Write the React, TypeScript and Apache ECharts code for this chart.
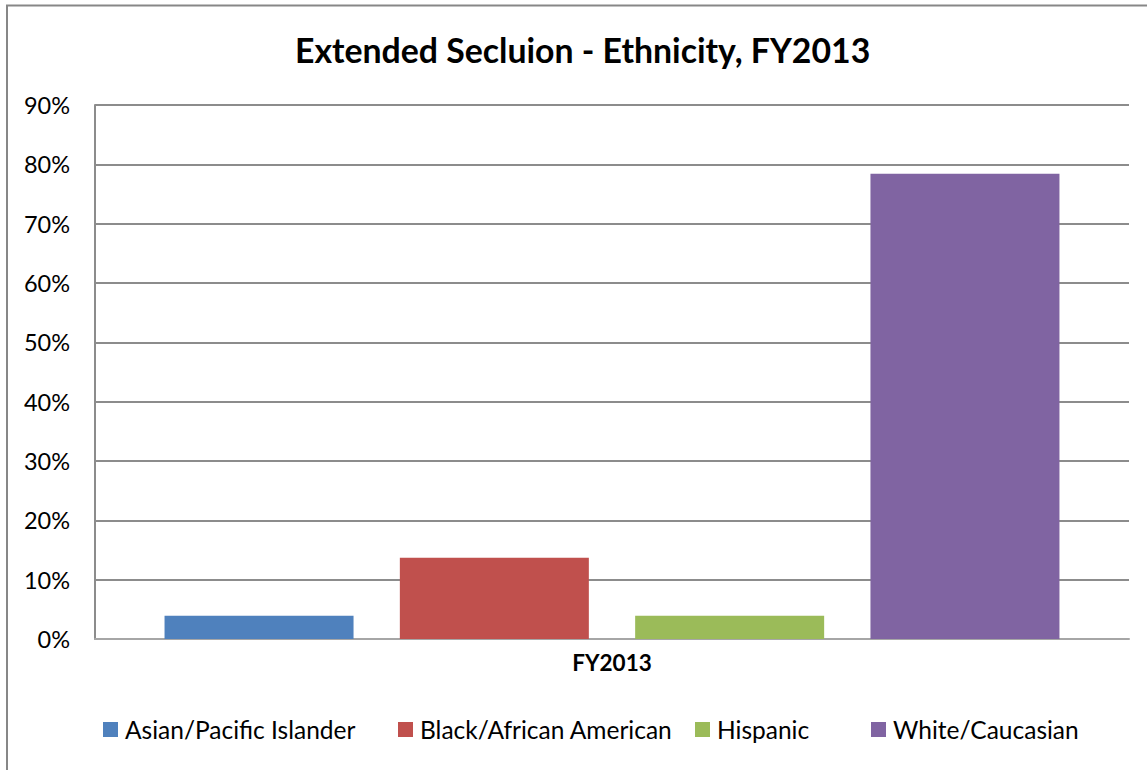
import React, { useEffect, useRef } from "react";
import * as echarts from "echarts";

const categories = ["FY2013"];
const seriesNames = ["Asian/Pacific Islander", "Black/African American", "Hispanic", "White/Caucasian"];
const asianValues = [0.039];
const blackValues = [0.137];
const hispanicValues = [0.039];
const whiteValues = [0.784];
const seriesColors = ["#4F81BD", "#C0504D", "#9BBB59", "#8064A2"];
const yTicks = { min: 0, max: 0.9, interval: 0.1 };
const legendLefts = [103, 398, 695, 871];

export default function App() {
  const ref = useRef<HTMLDivElement>(null);
  useEffect(() => {
    if (!ref.current) return;
    const chart = echarts.init(ref.current, null, { renderer: "svg" });
    const allValues = [asianValues, blackValues, hispanicValues, whiteValues];
    const font = "Lato, 'Open Sans', sans-serif";
    chart.setOption({
      animation: false,
      backgroundColor: "#ffffff",
      textStyle: { fontFamily: font },
      title: {
        text: "Extended Secluion - Ethnicity, FY2013",
        left: 290,
        top: 28,
        textStyle: { fontFamily: font, fontSize: 33.8, fontWeight: "bold", color: "#000" },
      },
      graphic: [
        {
          type: "rect",
          shape: { x: 7, y: 5.5, width: 1200, height: 820 },
          style: { fill: "none", stroke: "#878787", lineWidth: 2 },
          silent: true,
        },
      ],
      legend: seriesNames.map((name, i) => ({
        left: legendLefts[i],
        top: 717,
        padding: 0,
        itemWidth: 15,
        itemHeight: 15,
        icon: "rect",
        textStyle: { fontFamily: font, fontSize: 24.5, color: "#000", padding: [0, 0, 0, 2] },
        data: [name],
      })),
      grid: { left: 95, top: 105, right: 18, bottom: 131, containLabel: false },
      xAxis: {
        type: "category",
        data: categories,
        axisLine: { show: true, lineStyle: { color: "#a6a6a6", width: 2 } },
        axisTick: { show: false },
        axisLabel: {
          margin: 12,
          fontFamily: font,
          fontSize: 22.5,
          fontWeight: "bold",
          color: "#000",
        },
      },
      yAxis: {
        type: "value",
        min: yTicks.min,
        max: yTicks.max,
        interval: yTicks.interval,
        axisLine: { show: true, lineStyle: { color: "#8c8c8c", width: 2 } },
        axisTick: { show: false },
        splitLine: { show: true, lineStyle: { color: "#8c8c8c", width: 2 } },
        axisLabel: {
          margin: 25,
          fontFamily: font,
          fontSize: 23.5,
          color: "#000",
          formatter: (v: number) => Math.round(v * 100) + "%",
        },
      },
      series: seriesNames.map((name, i) => ({
        name,
        type: "bar",
        data: allValues[i],
        barWidth: 189,
        barGap: "24.5%",
        itemStyle: { color: seriesColors[i] },
      })),
    });
    return () => chart.dispose();
  }, []);
  return (
    <div
      ref={ref}
      style={{ position: "fixed", left: 0, top: 0, width: 1147, height: 770 }}
    />
  );
}
